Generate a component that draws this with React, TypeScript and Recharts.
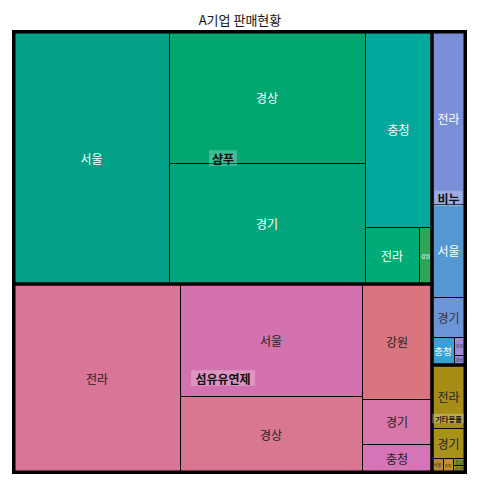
import { Treemap } from "recharts";

// product groups (top level)
const groupNames = ["샴푸", "섬유유연제", "비누", "기타용품"];

// sales by region for each group
const shampooRegions = ["서울", "경상", "경기", "충청", "전라", "강원"];
const shampooSales = [39000, 25600, 23700, 13000, 3050, 730];

const softenerRegions = ["전라", "서울", "경상", "강원", "경기", "충청"];
const softenerSales = [31020, 20300, 13700, 8020, 3150, 2100];

const soapRegions = ["전라", "서울", "경기", "충청", "강원", "경상"];
const soapSales = [5640, 3070, 1320, 610, 200, 110];

const etcRegions = ["전라", "경기", "서울", "충청", "경상", "강원"];
const etcSales = [2110, 1015, 150, 140, 90, 60];

// cell colours
const shampooColors = ["#02a087", "#00a56f", "#02a57b", "#00a99b", "#01ab78", "#2ba65a"];
const softenerColors = ["#d87599", "#d472b0", "#d97690", "#d9757f", "#d876a8", "#d574b6"];
const soapColors = ["#7b8fd9", "#5497d3", "#6c95d7", "#36a1d3", "#9b8bd9", "#8a8cdc"];
const etcColors = ["#a68e16", "#a8921a", "#b48a36", "#c48f2f", "#8aa322", "#9b9a1c"];

const shampooText = ["#fff", "#fff", "#fff", "#fff", "#fff", "#fff"];
const softenerText = ["#222", "#222", "#222", "#222", "#222", "#222"];
const soapText = ["#fff", "#fff", "#333", "#fff", "#333", "#333"];
const etcText = ["#222", "#222", "#222", "#222", "#222", "#222"];

const regionSets = [shampooRegions, softenerRegions, soapRegions, etcRegions];
const salesSets = [shampooSales, softenerSales, soapSales, etcSales];
const colorSets = [shampooColors, softenerColors, soapColors, etcColors];
const textSets = [shampooText, softenerText, soapText, etcText];

const data = groupNames.map((g, gi) => ({
  name: g,
  children: regionSets[gi].map((r, i) => ({
    name: r,
    sales: salesSets[gi][i],
    color: colorSets[gi][i],
    textColor: textSets[gi][i],
  })),
}));

const FONT = "'Noto Sans CJK KR', 'Noto Sans', sans-serif";
const W = 451;
const H = 440;

// leaf cells: fill, thin border and region name
function LeafCell(props: any) {
  const { x, y, width, height, depth, name, color, textColor } = props;
  if (depth !== 2) return <g />;
  const fs = Math.min(12, (width - 3) / name.length, height - 2);
  return (
    <g>
      <rect x={x + 0.5} y={y + 0.5} width={width} height={height} fill={color} stroke="#000" strokeWidth={1} />
      {fs >= 3 && (
        <text
          x={x + width / 2}
          y={y + height / 2}
          textAnchor="middle"
          dominantBaseline="central"
          fill={textColor}
          fontSize={fs}
          fontFamily={FONT}
        >
          {name}
        </text>
      )}
    </g>
  );
}

// group overlay: thick border and group label on top
function GroupCell(props: any) {
  const { x, y, width, height, depth, name } = props;
  if (depth !== 1) return <g />;
  const fs = Math.min(12, (width - 4) / name.length);
  const tw = fs * name.length;
  const cx = x + width / 2;
  const cy = y + height / 2;
  return (
    <g>
      <rect x={x} y={y} width={width} height={height} fill="none" stroke="#000" strokeWidth={3} />
      <rect x={cx - tw / 2 - 2} y={cy - fs * 0.65} width={tw + 4} height={fs * 1.3} fill="rgba(255,255,255,0.25)" />
      <text
        x={cx}
        y={cy}
        textAnchor="middle"
        dominantBaseline="central"
        fill="#111"
        fontSize={fs}
        fontWeight={600}
        fontFamily={FONT}
      >
        {name}
      </text>
    </g>
  );
}

export default function App() {
  return (
    <div style={{ position: "absolute", left: 0, top: 0, width: 480, height: 480, background: "#fff" }}>
      <div
        style={{
          position: "absolute",
          left: 0,
          top: 12,
          width: 480,
          textAlign: "center",
          fontSize: 13,
          lineHeight: "16px",
          fontFamily: FONT,
          color: "#111",
        }}
      >
        A기업 판매현황
      </div>
      <div style={{ position: "absolute", left: 14, top: 32 }}>
        <Treemap
          width={W}
          height={H}
          data={data}
          dataKey="sales"
          nameKey="name"
          aspectRatio={1.216}
          isAnimationActive={false}
          content={<LeafCell />}
        />
      </div>
      <div style={{ position: "absolute", left: 14, top: 32 }}>
        <Treemap
          width={W}
          height={H}
          data={data}
          dataKey="sales"
          nameKey="name"
          aspectRatio={1.216}
          isAnimationActive={false}
          content={<GroupCell />}
        />
      </div>
      <div
        style={{
          position: "absolute",
          left: 12,
          top: 30,
          width: 455,
          height: 444,
          boxSizing: "border-box",
          border: "3px solid #000",
        }}
      />
    </div>
  );
}
